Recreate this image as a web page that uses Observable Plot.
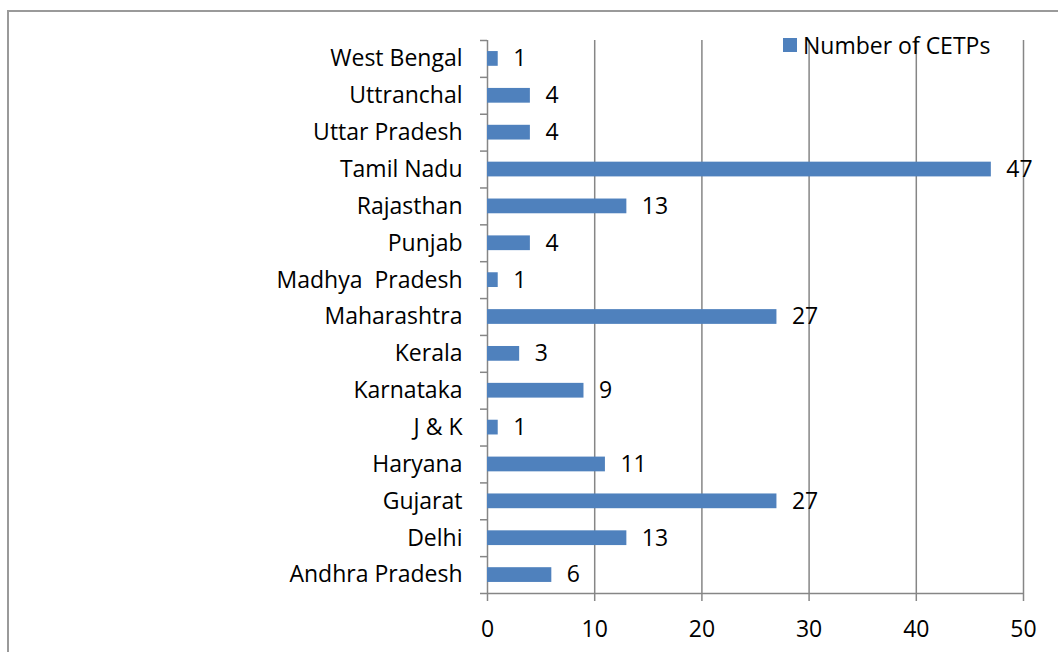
<!DOCTYPE html>
<html>
<head>
<meta charset="utf-8">
<script src="https://cdn.jsdelivr.net/npm/d3@7"></script>
<script src="https://cdn.jsdelivr.net/npm/@observablehq/plot@0.6"></script>
<style>
  body { margin: 0; background: #fff; }
  #wrap { position: relative; width: 1058px; height: 652px; overflow: hidden; font-family: "Open Sans", sans-serif; }
  #border { position: absolute; left: 7px; top: 10px; right: -10px; bottom: -10px; border-left: 2px solid #9a9a9a; border-top: 2px solid #9a9a9a; pointer-events: none; }
  #legend { position: absolute; left: 783px; top: 29px; display: flex; align-items: center; font-size: 23px; line-height: 32px; color: #000; }
  #legend .sw { width: 14px; height: 14px; background: #4F81BD; margin-right: 6px; }
</style>
</head>
<body>
<div id="wrap">
  <div id="chart"></div>
  <div id="border"></div>
  <div id="legend"><div class="sw"></div><span>Number of CETPs</span></div>
</div>
<script>
const states = ["Andhra Pradesh", "Delhi", "Gujarat", "Haryana", "J & K", "Karnataka", "Kerala", "Maharashtra", "Madhya\u00a0 Pradesh", "Punjab", "Rajasthan", "Tamil Nadu", "Uttar Pradesh", "Uttranchal", "West Bengal"];
const cetps = [6, 13, 27, 11, 1, 9, 3, 27, 1, 4, 13, 47, 4, 4, 1];
const xTicks = [0, 10, 20, 30, 40, 50];

const data = states.map((s, i) => ({state: s, n: cetps[i]}));
const yDomain = states.slice().reverse();

const W = 1058, H = 652, mT = 40, mB = 59, mL = 487, mR = 35;
const step = (H - mT - mB) / states.length;
const grey = "#868686";
const fs = 23;

const chart = Plot.plot({
  width: W, height: H,
  marginLeft: mL, marginRight: mR, marginTop: mT, marginBottom: mB,
  style: {fontFamily: "Open Sans, sans-serif", fontSize: fs + "px", color: "#000", background: "transparent"},
  x: {domain: [0, 50], label: null},
  y: {domain: yDomain, paddingInner: 0.6, paddingOuter: 0.3, round: false, label: null},
  marks: [
    Plot.ruleX(xTicks, {stroke: grey, strokeWidth: 1.5}),
    Plot.ruleY([yDomain[yDomain.length - 1]], {dy: step / 2, stroke: grey, strokeWidth: 1.5}),
    Plot.axisY({tickSize: 7, tickFormat: () => "", stroke: grey, strokeWidth: 1.5, dy: step / 2, label: null}),
    Plot.axisY([yDomain[0]], {tickSize: 7, tickFormat: () => "", stroke: grey, strokeWidth: 1.5, dy: -step / 2, label: null}),
    Plot.axisY({tickSize: 0, tickPadding: 25, fontSize: fs, label: null}),
    Plot.axisX(xTicks, {tickSize: 8, tickFormat: () => "", stroke: grey, strokeWidth: 1.5, label: null}),
    Plot.axisX(xTicks, {tickSize: 0, tickPadding: 27, fontSize: fs, label: null}),
    Plot.barX(data, {y: "state", x: "n", fill: "#4F81BD"}),
    Plot.text(data, {y: "state", x: "n", text: d => String(d.n), textAnchor: "start", dx: 15, fontSize: fs, fill: "#000"})
  ]
});
document.getElementById("chart").appendChild(chart);
</script>
</body>
</html>
